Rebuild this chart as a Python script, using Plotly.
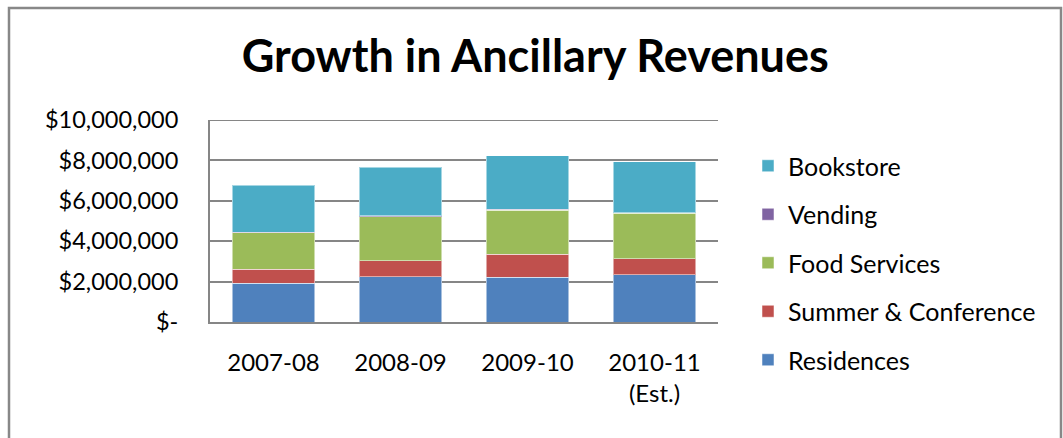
import plotly.graph_objects as go

categories = ["2007-08", "2008-09", "2009-10", "2010-11<br>(Est.)"]
residences = [1930000, 2240000, 2210000, 2330000]
summer_conference = [690000, 800000, 1140000, 810000]
food_services = [1790000, 2170000, 2180000, 2240000]
vending = [40000, 40000, 40000, 40000]
bookstore = [2330000, 2410000, 2660000, 2520000]

tick_vals = [0, 2000000, 4000000, 6000000, 8000000, 10000000]
tick_text = ["$-", "$2,000,000", "$4,000,000", "$6,000,000", "$8,000,000", "$10,000,000"]

series = [
    ("Residences", residences, "#4F81BD", 5),
    ("Summer & Conference", summer_conference, "#C0504D", 4),
    ("Food Services", food_services, "#9BBB59", 3),
    ("Vending", vending, "#8064A2", 2),
    ("Bookstore", bookstore, "#4BACC6", 1),
]

FONT = "Lato"
fig = go.Figure()
for name, vals, color, rank in series:
    fig.add_trace(go.Bar(
        x=categories, y=vals, name=name, legendrank=rank, legendgroup=name,
        marker=dict(color=color, line=dict(color="rgba(255,255,255,0.5)", width=1)),
    ))

W, H = 1063, 438
L, R, T, B = 210, 345, 120, 116
pw, ph = W - L - R, H - T - B

def px_x(p):
    return (p - L) / pw

def px_y(p):
    return (H - B - p) / ph

fig.update_layout(
    width=W, height=H,
    margin=dict(l=L, r=R, t=T, b=B),
    barmode="stack", bargap=0.35,
    paper_bgcolor="white", plot_bgcolor="white",
    font=dict(family=FONT, size=22, color="#000000"),
    title=dict(text="<b>Growth in Ancillary Revenues</b>", x=0.5035, xanchor="center",
               y=1 - 56 / H, yanchor="middle", font=dict(family=FONT, size=45, color="#000000")),
    xaxis=dict(type="category", showline=True, linecolor="#868686", linewidth=2, ticks="",
               ticklabelstandoff=18, tickfont=dict(family=FONT, size=24),
               range=[-0.5, 3.5]),
    yaxis=dict(range=[0, tick_vals[-1]], tickvals=tick_vals, ticktext=tick_text,
               showline=True, linecolor="#868686", linewidth=2,
               showgrid=True, gridcolor="#868686", gridwidth=2,
               ticks="", ticklabelstandoff=25, tickfont=dict(family=FONT, size=23.5),
               zeroline=False),
    legend=dict(x=px_x(748), y=px_y(143), xanchor="left", yanchor="top",
                traceorder="grouped", tracegroupgap=13, maxheight=420,
                font=dict(family=FONT, size=25), bgcolor="rgba(0,0,0,0)"),
    showlegend=True,
    shapes=[
        dict(type="rect", xref="paper", yref="paper",
             x0=px_x(9), x1=px_x(1061), y0=px_y(460), y1=px_y(8),
             line=dict(color="#888888", width=2.5), fillcolor="rgba(0,0,0,0)", layer="below"),
        dict(type="line", xref="paper", yref="y", x0=0, x1=1,
             y0=tick_vals[-1], y1=tick_vals[-1],
             line=dict(color="#868686", width=2), layer="below"),
    ],
)

fig.write_html("out.html", config={"displayModeBar": False},
               post_script="document.body.style.margin='0';")
